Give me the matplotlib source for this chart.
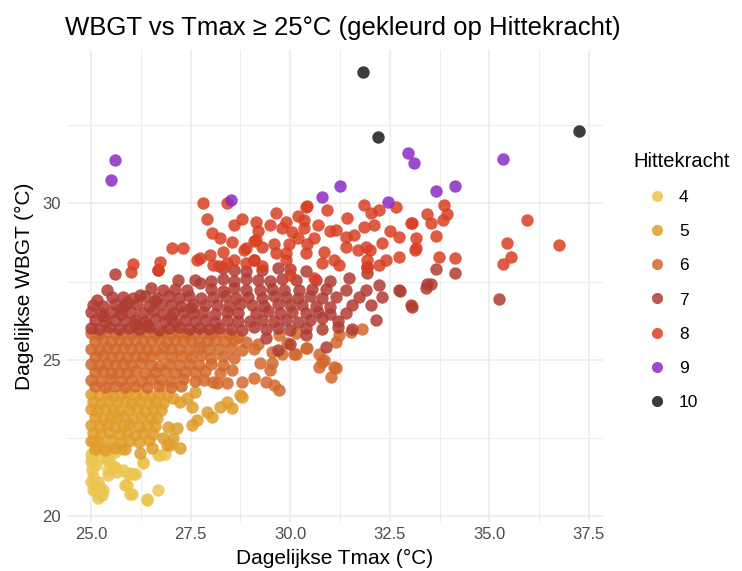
import numpy as np
import matplotlib.pyplot as plt
from matplotlib.lines import Line2D

plt.rcParams['font.family'] = ['Liberation Sans', 'DejaVu Sans']

# Hittekracht 4
x4 = [25.0, 25.03, 25.4, 25.48, 25.6, 25.43, 25.8, 25.98, 26.1, 26.3, 26.68, 26.85,
      25.0, 25.1, 25.23, 25.05, 25.18, 25.3, 25.85, 25.98, 26.4, 26.68, 25.03, 25.05,
      25.18, 25.15, 25.28, 25.43, 25.55, 25.65, 25.93, 26.05, 25.9, 26.03, 26.3, 26.4,
      26.73, 25.3, 25.43, 25.1, 25.2, 25.05, 25.35, 25.6, 25.75, 25.0, 25.12]
y4 = [21.73, 21.47, 21.95, 21.73, 21.57, 21.47, 21.47, 21.4, 21.37, 21.73, 21.95, 22.0,
      21.09, 20.99, 20.93, 20.83, 20.6, 20.83, 20.99, 20.73, 20.57, 20.83, 21.85, 21.25,
      21.09, 20.77, 20.67, 21.31, 21.57, 21.41, 21.37, 21.37, 20.99, 20.73, 21.69, 20.51,
      21.95, 21.88, 21.79, 22.1, 22.25, 22.4, 22.2, 22.05, 22.15, 22.0, 21.65]

# Hittekracht 5
x5 = [25.0, 25.2, 25.4, 25.55, 25.75, 25.9, 26.1, 26.3, 26.5, 26.7, 26.9, 27.05, 27.4, 27.6,
      25.05, 25.25, 25.45, 25.65, 25.85, 26.0, 26.2, 26.45, 26.6, 26.8, 27.23, 28.4,
      25.0, 25.15, 25.35, 25.55, 25.7, 25.95, 26.15, 26.35, 26.55, 26.75, 27.53, 28.23, 28.53,
      25.1, 25.3, 25.5, 25.65, 25.8, 26.05, 26.25, 26.5, 26.65, 28.03, 27.9,
      25.0, 25.2, 25.4, 25.6, 25.8, 25.95, 26.2, 26.4, 26.6, 26.93, 27.53, 27.65,
      25.05, 25.25, 25.45, 25.7, 25.9, 26.1, 26.3, 26.55, 27.15, 26.8,
      25.0, 25.2, 25.5, 25.75, 25.95, 26.2, 26.45, 26.9, 27.05,
      25.1, 25.35, 25.6, 25.85, 26.23, 26.53, 27.23, 26.98, 28.73, 28.78]
y5 = [23.92, 23.88, 23.95, 23.86, 23.9, 23.94, 23.87, 23.91, 23.85, 23.93, 23.88, 23.77, 23.77, 23.96,
      23.66, 23.62, 23.68, 23.64, 23.7, 23.6, 23.67, 23.63, 23.69, 23.61, 23.64, 23.64,
      23.42, 23.38, 23.44, 23.36, 23.41, 23.39, 23.45, 23.37, 23.43, 23.4, 23.48, 23.48, 23.45,
      23.16, 23.12, 23.18, 23.14, 23.2, 23.11, 23.17, 23.13, 23.15, 23.16, 23.32,
      22.92, 22.88, 22.94, 22.86, 22.9, 22.95, 22.87, 22.93, 22.89, 22.84, 22.91, 23.07,
      22.66, 22.62, 22.68, 22.64, 22.7, 22.61, 22.67, 22.63, 22.81, 22.5,
      22.42, 22.38, 22.44, 22.36, 22.41, 22.39, 22.43, 22.27, 22.5,
      22.15, 22.12, 22.18, 22.14, 22.04, 22.2, 22.17, 22.27, 23.87, 23.8]

# Hittekracht 6
x6 = [25.0, 25.2, 25.4, 25.6, 25.8, 26.0, 26.2, 26.4, 26.6, 26.8, 27.0, 27.2, 27.4, 27.6, 27.8, 28.0, 28.2, 28.45, 28.7, 29.73, 30.15,
      25.1, 25.3, 25.5, 25.7, 25.9, 26.1, 26.3, 26.5, 26.7, 26.9, 27.1, 27.3, 27.5, 27.7, 27.9, 28.1, 28.35, 28.6, 28.9, 29.2, 29.93,
      25.0, 25.2, 25.4, 25.6, 25.8, 26.0, 26.2, 26.4, 26.6, 26.8, 27.0, 27.2, 27.45, 27.7, 27.95, 28.2, 28.5, 28.8, 29.1, 29.53, 30.43,
      25.1, 25.3, 25.5, 25.7, 25.9, 26.1, 26.3, 26.5, 26.75, 27.0, 27.25, 27.5, 27.75, 28.0, 28.3, 28.6, 29.8, 30.15,
      25.0, 25.2, 25.4, 25.6, 25.8, 26.0, 26.25, 26.5, 26.7, 26.95, 27.2, 27.45, 27.7, 28.0, 28.3, 29.23, 29.55,
      25.1, 25.3, 25.5, 25.7, 25.9, 26.1, 26.35, 26.6, 26.85, 27.1, 27.35, 27.6, 27.85, 28.23, 28.53, 29.48,
      25.0, 25.25, 25.5, 25.75, 26.0, 26.25, 26.5, 26.75, 27.0, 27.3, 27.6, 27.83, 28.15, 28.4, 29.1, 29.4,
      25.1, 25.35, 25.6, 25.85, 26.1, 26.4, 26.7, 27.0, 27.25, 28.05, 28.8, 29.6, 29.73,
      30.73, 30.85, 30.73, 31.15, 31.03, 31.23, 31.15, 31.53, 31.8, 30.1, 30.4, 30.8, 31.1]
y6 = [25.86, 25.82, 25.88, 25.84, 25.87, 25.83, 25.89, 25.85, 25.81, 25.88, 25.84, 25.86, 25.82, 25.87, 25.85, 25.83, 25.88, 25.84, 25.72, 25.78, 25.85,
      25.6, 25.64, 25.58, 25.62, 25.57, 25.63, 25.59, 25.61, 25.65, 25.58, 25.62, 25.6, 25.64, 25.57, 25.61, 25.63, 25.59, 25.62, 25.56, 25.5, 25.53,
      25.36, 25.32, 25.38, 25.34, 25.37, 25.33, 25.39, 25.35, 25.31, 25.38, 25.34, 25.36, 25.32, 25.37, 25.35, 25.33, 25.38, 25.3, 25.34, 25.24, 25.37,
      25.1, 25.14, 25.08, 25.12, 25.07, 25.13, 25.09, 25.11, 25.15, 25.08, 25.12, 25.1, 25.14, 25.07, 25.11, 25.06, 25.2, 25.2,
      24.86, 24.82, 24.88, 24.84, 24.87, 24.83, 24.89, 24.85, 24.81, 24.88, 24.84, 24.86, 24.82, 24.87, 24.85, 24.89, 24.89,
      24.6, 24.64, 24.58, 24.62, 24.57, 24.63, 24.59, 24.61, 24.65, 24.58, 24.62, 24.6, 24.64, 24.57, 24.66, 24.66,
      24.36, 24.32, 24.38, 24.34, 24.37, 24.33, 24.39, 24.35, 24.31, 24.38, 24.34, 24.35, 24.25, 24.25, 24.41, 24.28,
      24.15, 24.12, 24.18, 24.14, 24.17, 24.13, 24.16, 24.12, 24.18, 24.28, 24.28, 24.19, 24.03,
      25.2, 24.98, 24.76, 24.73, 24.44, 25.78, 25.56, 25.88, 26.0, 25.2, 25.37, 24.93, 24.76]

# Hittekracht 7
x7 = [25.0, 25.2, 25.45, 25.7, 25.95, 26.2, 26.45, 26.7, 26.95, 27.2, 27.45, 27.7, 27.95, 28.2, 28.5, 28.8, 29.1, 29.4, 29.7, 30.0, 30.4, 30.8, 31.2, 31.55,
      25.1, 25.35, 25.6, 25.85, 26.1, 26.35, 26.6, 26.85, 27.1, 27.35, 27.6, 27.85, 28.1, 28.4, 28.7, 29.0, 29.3, 29.6, 29.9, 30.2, 30.5, 30.8, 31.2, 32.15,
      25.0, 25.25, 25.5, 25.75, 26.0, 26.3, 26.55, 26.8, 27.05, 27.3, 27.55, 27.8, 28.1, 28.4, 28.7, 29.15, 29.45, 29.75, 30.05, 30.4, 30.7, 31.0, 31.4,
      25.05, 25.3, 25.6, 25.85, 26.15, 26.45, 26.75, 27.0, 27.25, 27.55, 27.85, 28.15, 28.45, 28.75, 29.05, 29.35, 29.7, 30.0, 30.3, 30.65, 31.0, 31.55, 32.03, 33.03,
      25.4, 25.53, 25.8, 26.05, 26.35, 26.65, 26.95, 27.2, 27.45, 27.75, 28.05, 28.35, 28.65, 28.95, 29.3, 29.6, 29.9, 30.2, 30.5, 30.8, 31.15, 31.73, 32.3,
      26.23, 26.5, 26.8, 27.1, 27.4, 27.73, 28.0, 28.3, 28.6, 28.9, 29.23, 29.55, 29.85, 30.23, 30.55, 30.9, 31.4, 31.9, 32.73, 33.4,
      25.6, 27.18, 27.6, 28.0, 28.3, 28.6, 28.9, 29.2, 29.5, 29.8, 30.15, 30.65, 31.0, 31.48, 31.93, 32.23, 33.53,
      26.68, 28.3, 28.6, 28.9, 29.3, 29.7, 30.0, 30.4, 31.93, 33.65, 34.15,
      35.25, 33.43, 33.05, 32.75, 29.4, 30.0, 30.4, 30.9, 29.7,
      25.3, 25.75, 26.1, 26.6, 27.0, 27.5, 25.15, 25.9, 26.4]
y7 = [26.02, 25.98, 26.04, 25.97, 26.03, 25.99, 26.05, 25.96, 26.01, 26.04, 25.98, 26.02, 25.97, 26.03, 25.99, 25.95, 26.05, 25.98, 26.02, 25.96, 26.03, 25.99, 26.04, 25.97,
      26.26, 26.22, 26.28, 26.24, 26.27, 26.23, 26.29, 26.25, 26.21, 26.28, 26.24, 26.26, 26.22, 26.27, 26.25, 26.23, 26.28, 26.24, 26.26, 26.22, 26.27, 26.33, 26.25, 26.26,
      26.52, 26.48, 26.54, 26.47, 26.53, 26.49, 26.55, 26.46, 26.51, 26.54, 26.48, 26.52, 26.47, 26.53, 26.49, 26.49, 26.55, 26.48, 26.52, 26.49, 26.53, 26.47, 26.51,
      26.76, 26.72, 26.78, 26.74, 26.77, 26.73, 26.79, 26.75, 26.71, 26.78, 26.74, 26.76, 26.72, 26.77, 26.75, 26.73, 26.78, 26.74, 26.76, 26.72, 26.68, 26.74, 26.74, 26.74,
      27.22, 27.0, 27.02, 26.98, 27.04, 26.97, 27.03, 26.99, 27.05, 26.96, 27.01, 27.04, 26.98, 27.02, 26.97, 27.03, 27.0, 26.99, 27.04, 26.97, 27.0, 27.0, 27.02,
      27.06, 27.28, 27.24, 27.27, 27.23, 27.44, 27.25, 27.21, 27.28, 27.24, 27.22, 27.26, 27.22, 27.22, 27.27, 27.25, 27.22, 27.22, 27.22, 27.3,
      27.73, 27.54, 27.56, 27.52, 27.57, 27.53, 27.58, 27.55, 27.51, 27.58, 27.54, 27.54, 27.52, 27.6, 27.76, 27.38, 27.41,
      27.86, 27.92, 27.88, 27.84, 27.87, 27.93, 27.89, 27.85, 27.95, 27.9, 27.76,
      26.93, 27.41, 26.7, 27.19, 25.7, 25.5, 25.8, 25.4, 25.3,
      26.4, 26.62, 26.15, 26.88, 26.38, 26.65, 26.9, 26.86, 26.12]

# Hittekracht 8
x8 = [26.0, 26.05, 26.68, 26.73, 27.03, 27.3, 27.65, 27.98, 28.05, 27.8, 28.4, 27.9, 28.03, 28.23,
      28.55, 28.3, 27.73, 28.6, 28.8, 29.15, 29.15, 29.65, 30.05, 29.9, 30.4, 30.93, 31.43,
      28.6, 28.9, 29.1, 29.1, 29.3, 29.6, 29.65, 29.9, 29.98, 30.35, 30.35, 30.43, 30.4, 30.43,
      30.8, 30.85, 31.1, 31.15, 31.0, 31.4, 31.4, 31.23, 31.85, 31.85, 32.03, 32.23, 32.3, 32.65,
      32.73, 33.03, 33.15, 32.73, 32.4, 32.23, 31.93, 31.93, 33.85, 33.95, 33.43, 33.83, 33.53,
      33.05, 33.15, 33.65, 33.13, 33.73, 34.15, 35.95, 36.75, 35.45, 35.55, 35.35, 29.2, 29.5,
      28.4, 29.3, 28.2, 30.6, 30.2, 30.7, 30.2, 29.9, 31.7, 32.0, 31.6, 32.5, 32.1, 28.85, 30.0,
      30.6, 31.9, 28.9, 29.1, 29.8]
y8 = [27.8, 28.05, 27.86, 28.12, 28.56, 28.56, 28.18, 28.34, 28.02, 30.0, 30.0, 29.5, 29.04, 28.9,
      28.75, 28.43, 28.24, 29.3, 29.5, 29.4, 28.82, 29.68, 29.07, 28.4, 29.87, 29.78, 29.52,
      28.2, 28.1, 28.8, 28.2, 28.6, 28.7, 28.4, 28.2, 28.7, 29.46, 29.2, 29.9, 28.4, 28.7,
      28.1, 28.43, 28.18, 29.14, 29.1, 28.91, 28.59, 28.02, 29.94, 29.23, 29.68, 29.78, 28.72, 29.87,
      28.91, 29.36, 28.56, 28.27, 28.18, 28.02, 28.18, 27.95, 29.94, 29.65, 29.65, 29.46, 29.36,
      29.36, 28.9, 28.95, 28.5, 28.27, 28.24, 29.47, 28.66, 28.72, 28.27, 28.05, 29.1, 29.3,
      28.1, 28.0, 28.0, 28.9, 28.9, 29.3, 29.6, 29.4, 28.5, 28.5, 29.0, 29.1, 29.3, 28.5, 27.7,
      27.6, 28.6, 28.56, 28.18, 29.2]

# Hittekracht 9
x9 = [25.6, 25.5, 28.5, 30.8, 31.25, 32.45, 32.95, 33.1, 33.65, 34.15, 35.35]
y9 = [31.37, 30.73, 30.1, 30.2, 30.55, 30.03, 31.6, 31.3, 30.4, 30.55, 31.4]

# Hittekracht 10
x10 = [31.83, 32.2, 37.25]
y10 = [34.2, 32.1, 32.3]

levels = ['4', '5', '6', '7', '8', '9', '10']
xs = [x4, x5, x6, x7, x8, x9, x10]
ys = [y4, y5, y6, y7, y8, y9, y10]
colors = ['#EBC550', '#E09C2A', '#D2692C', '#B03C33', '#D93F22', '#8A2BC2', '#1A1A1A']

fig = plt.figure(figsize=(7.42, 5.71), dpi=100)
ax = fig.add_axes([0.09, 0.086, 0.723, 0.826])

for xv, yv, c in zip(xs, ys, colors):
    ax.scatter(xv, yv, s=80, color=c, alpha=0.85, linewidths=0, zorder=3)

allx = np.concatenate([np.array(v, float) for v in xs])
ally = np.concatenate([np.array(v, float) for v in ys])
dx = (allx.max() - allx.min()) * 0.05
dy = (ally.max() - ally.min()) * 0.05
ax.set_xlim(allx.min() - dx, allx.max() + dx)
ax.set_ylim(ally.min() - dy, ally.max() + dy)

ax.set_xticks([25.0, 27.5, 30.0, 32.5, 35.0, 37.5])
ax.set_xticklabels(['25.0', '27.5', '30.0', '32.5', '35.0', '37.5'])
ax.set_xticks([26.25, 28.75, 31.25, 33.75, 36.25], minor=True)
ax.set_yticks([20, 25, 30])
ax.set_yticks([22.5, 27.5, 32.5], minor=True)
ax.grid(which='major', color='#EBEBEB', linewidth=1.1, zorder=0)
ax.grid(which='minor', color='#EDEDED', linewidth=0.8, zorder=0)
ax.set_axisbelow(True)
for s in ax.spines.values():
    s.set_visible(False)
ax.tick_params(which='both', length=0, labelsize=12, labelcolor='#4D4D4D', pad=4)

ax.set_xlabel('Dagelijkse Tmax (°C)', fontsize=15, labelpad=5)
ax.set_ylabel('Dagelijkse WBGT (°C)', fontsize=15, labelpad=6)
fig.text(0.087, 0.951, 'WBGT vs Tmax ≥ 25°C (gekleurd op Hittekracht)', fontsize=18.5,
         ha='left', va='center')

handles = [Line2D([], [], marker='o', linestyle='', markersize=8, markeredgewidth=0,
                  color=c, alpha=0.85) for c in colors]
fig.legend(handles, levels, title='Hittekracht', loc='upper left',
           bbox_to_anchor=(0.833, 0.762), frameon=False, fontsize=12.5,
           title_fontsize=14.5, labelspacing=1.1, handlelength=2.7,
           handletextpad=-0.1, alignment='left')

fig.savefig('out.png', dpi=100)
